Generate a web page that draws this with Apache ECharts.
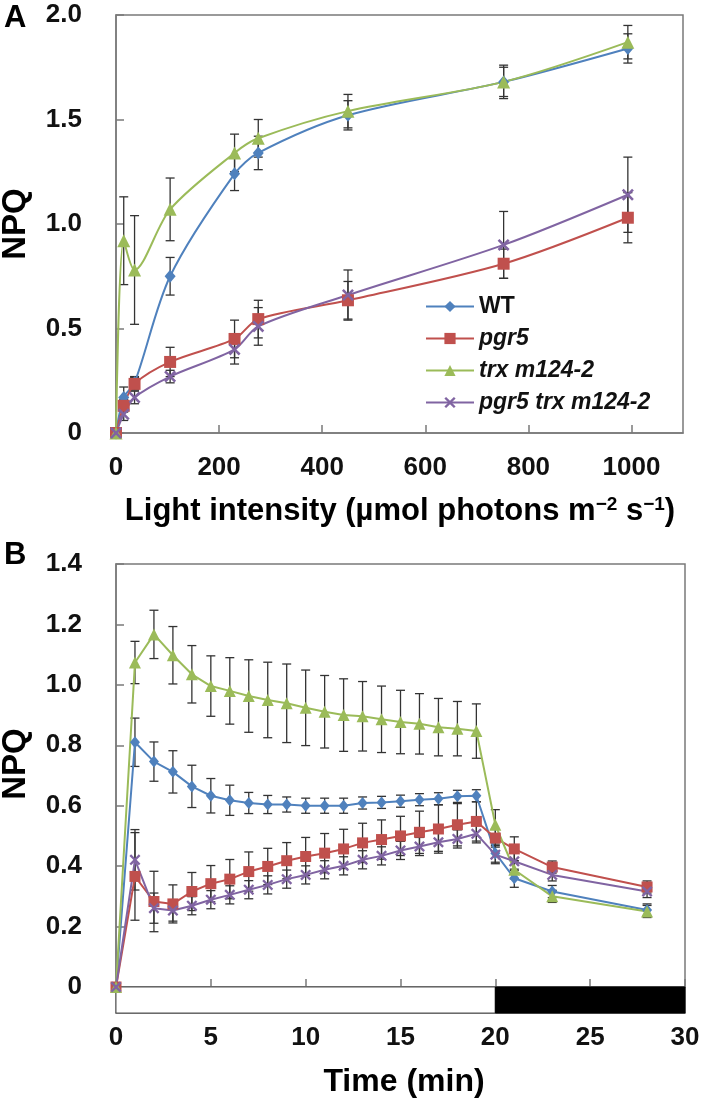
<!DOCTYPE html>
<html>
<head>
<meta charset="utf-8">
<script src="https://cdn.jsdelivr.net/npm/echarts@6/dist/echarts.min.js"></script>
<style>
html, body { margin: 0; padding: 0; background: #fff; }
#chart { width: 705px; height: 1103px; }
</style>
</head>
<body>
<div id="chart"></div>
<script>
// panel A: NPQ vs light intensity
var lightA = [0, 15, 36, 105, 230, 276, 450, 752, 993];
var wtA = [0, 0.17, 0.24, 0.75, 1.24, 1.34, 1.52, 1.68, 1.84];
var wtAErr = [0, 0.05, 0.03, 0.09, 0.08, 0.08, 0.07, 0.07, 0.07];
var pgr5A = [0, 0.13, 0.235, 0.34, 0.45, 0.545, 0.635, 0.81, 1.03];
var pgr5AErr = [0, 0.03, 0.03, 0.07, 0.09, 0.09, 0.09, 0.07, 0.12];
var trxA = [0, 0.92, 0.78, 1.07, 1.34, 1.41, 1.54, 1.68, 1.87];
var trxAErr = [0, 0.21, 0.26, 0.15, 0.09, 0.09, 0.08, 0.08, 0.08];
var dblA = [0, 0.09, 0.17, 0.27, 0.40, 0.51, 0.66, 0.90, 1.14];
var dblAErr = [0, 0.03, 0.03, 0.03, 0.07, 0.09, 0.12, 0.16, 0.18];
var ticksAX = [0, 200, 400, 600, 800, 1000];

// panel B: NPQ induction / relaxation over time
var timeB = [0, 1, 2, 3, 4, 5, 6, 7, 8, 9, 10, 11, 12, 13, 14, 15, 16, 17, 18, 19, 20, 21, 23, 28];
var wtB = [0, 0.81, 0.746, 0.712, 0.664, 0.633, 0.618, 0.609, 0.604, 0.604, 0.60, 0.60, 0.60, 0.609, 0.611, 0.615, 0.62, 0.623, 0.631, 0.633, 0.443, 0.36, 0.316, 0.255];
var wtBErr = [0, 0.08, 0.065, 0.07, 0.07, 0.057, 0.05, 0.035, 0.03, 0.025, 0.025, 0.025, 0.025, 0.02, 0.02, 0.02, 0.02, 0.02, 0.02, 0.02, 0.03, 0.03, 0.02, 0.02];
var pgr5B = [0, 0.366, 0.283, 0.275, 0.316, 0.342, 0.357, 0.382, 0.399, 0.418, 0.432, 0.443, 0.457, 0.477, 0.488, 0.50, 0.512, 0.523, 0.537, 0.548, 0.493, 0.457, 0.397, 0.331];
var pgr5BErr = [0, 0.145, 0.10, 0.063, 0.063, 0.06, 0.065, 0.065, 0.06, 0.06, 0.063, 0.065, 0.065, 0.065, 0.065, 0.065, 0.07, 0.08, 0.07, 0.065, 0.03, 0.04, 0.02, 0.02];
var trxB = [0, 1.074, 1.167, 1.098, 1.035, 0.996, 0.98, 0.963, 0.95, 0.939, 0.924, 0.911, 0.90, 0.896, 0.886, 0.877, 0.871, 0.86, 0.855, 0.847, 0.537, 0.388, 0.30, 0.25];
var trxBErr = [0, 0.07, 0.08, 0.095, 0.095, 0.10, 0.11, 0.12, 0.125, 0.13, 0.125, 0.12, 0.12, 0.115, 0.11, 0.105, 0.10, 0.095, 0.09, 0.09, 0.05, 0.03, 0.02, 0.02];
var dblB = [0, 0.421, 0.261, 0.253, 0.269, 0.289, 0.305, 0.322, 0.338, 0.357, 0.371, 0.388, 0.401, 0.421, 0.434, 0.452, 0.465, 0.479, 0.49, 0.507, 0.438, 0.416, 0.371, 0.316];
var dblBErr = [0, 0.1, 0.05, 0.035, 0.03, 0.03, 0.03, 0.03, 0.03, 0.03, 0.03, 0.03, 0.03, 0.03, 0.03, 0.03, 0.03, 0.03, 0.03, 0.03, 0.03, 0.03, 0.02, 0.02];

// light (white) / dark (black) bar under panel B
var lightStart = [0, 20];
var lightEnd = [20, 30];
var lightState = ['light', 'dark'];

var names = ['WT', 'pgr5', 'trx m124-2', 'pgr5 trx m124-2'];
var colors = ['#4F81BD', '#C0504D', '#9BBB59', '#8064A2'];

var FONT = '"Liberation Sans", Arial, sans-serif';
var AXIS = '#7a7a7a';
var xMark = 'path://M0,1.5L1.5,0L5,3.5L8.5,0L10,1.5L6.5,5L10,8.5L8.5,10L5,6.5L1.5,10L0,8.5L3.5,5Z';
var symbols = ['diamond', 'rect', 'triangle', xMark];

var myChart = echarts.init(document.getElementById('chart'));

function lineSeries(i, xs, ys, grid, smooth, sizes) {
    return {
        name: names[i],
        type: 'line',
        xAxisIndex: grid,
        yAxisIndex: grid,
        data: xs.map(function(x, k) { return [x, ys[k]]; }),
        smooth: smooth,
        symbol: symbols[i],
        symbolSize: sizes[i],
        showAllSymbol: true,
        lineStyle: { color: colors[i], width: 2 },
        itemStyle: { color: colors[i] },
        z: 3
    };
}

function errSeries(xs, ys, es, grid) {
    return {
        type: 'custom',
        xAxisIndex: grid,
        yAxisIndex: grid,
        silent: true,
        z: 2,
        data: xs.map(function(x, k) { return [x, ys[k] - es[k], ys[k] + es[k]]; }),
        encode: { x: 0, y: [1, 2] },
        renderItem: function(params, api) {
            if (api.value(1) === api.value(2)) return null;
            var lo = api.coord([api.value(0), api.value(1)]);
            var hi = api.coord([api.value(0), api.value(2)]);
            var w = 4.5;
            var st = { stroke: '#333', lineWidth: 1.3 };
            return {
                type: 'group',
                children: [
                    { type: 'line', shape: { x1: lo[0], y1: lo[1], x2: hi[0], y2: hi[1] }, style: st },
                    { type: 'line', shape: { x1: lo[0] - w, y1: lo[1], x2: lo[0] + w, y2: lo[1] }, style: st },
                    { type: 'line', shape: { x1: hi[0] - w, y1: hi[1], x2: hi[0] + w, y2: hi[1] }, style: st }
                ]
            };
        }
    };
}

var labelStyle = { fontSize: 26, fontWeight: 'bold', color: '#111', fontFamily: FONT };
function numFmt(v) { return v === 0 ? '0' : v.toFixed(1); }
var axisLine = { show: true, onZero: false, lineStyle: { color: AXIS, width: 1.5 } };
var tickIn = { show: true, inside: true, length: 8, lineStyle: { color: AXIS, width: 1.5 } };

var sizesA = [[11, 13], 12, 13, 12];
var sizesB = [[10, 12], 11, 12, 11];

var series = [
    errSeries(lightA, wtA, wtAErr, 0),
    errSeries(lightA, pgr5A, pgr5AErr, 0),
    errSeries(lightA, trxA, trxAErr, 0),
    errSeries(lightA, dblA, dblAErr, 0),
    lineSeries(0, lightA, wtA, 0, 0.3, sizesA),
    lineSeries(1, lightA, pgr5A, 0, 0.3, sizesA),
    lineSeries(2, lightA, trxA, 0, 0.3, sizesA),
    lineSeries(3, lightA, dblA, 0, 0.3, sizesA),
    errSeries(timeB, wtB, wtBErr, 1),
    errSeries(timeB, pgr5B, pgr5BErr, 1),
    errSeries(timeB, trxB, trxBErr, 1),
    errSeries(timeB, dblB, dblBErr, 1),
    lineSeries(0, timeB, wtB, 1, false, sizesB),
    lineSeries(1, timeB, pgr5B, 1, false, sizesB),
    lineSeries(2, timeB, trxB, 1, false, sizesB),
    lineSeries(3, timeB, dblB, 1, false, sizesB),
    {
        type: 'custom',
        xAxisIndex: 2,
        yAxisIndex: 2,
        silent: true,
        z: 1,
        data: lightStart.map(function(s, k) { return [s, lightEnd[k], lightState[k] === 'dark' ? 1 : 0]; }),
        encode: { x: [0, 1] },
        renderItem: function(params, api) {
            var p0 = api.coord([api.value(0), 1]);
            var p1 = api.coord([api.value(1), 0]);
            var dark = api.value(2);
            return {
                type: 'rect',
                shape: { x: p0[0], y: p0[1], width: p1[0] - p0[0], height: p1[1] - p0[1] },
                style: { fill: dark ? '#000' : '#fff', stroke: dark ? '#000' : '#555', lineWidth: 1 }
            };
        }
    }
];

var option = {
    animation: false,
    backgroundColor: '#fff',
    grid: [
        { left: 116, top: 15, width: 567, height: 418, show: true, borderColor: AXIS, borderWidth: 1.5 },
        { left: 116, top: 564, width: 569, height: 423, show: true, borderColor: AXIS, borderWidth: 1.5 },
        { left: 116, top: 987, width: 569, height: 26, show: true, borderColor: AXIS, borderWidth: 1.5 }
    ],
    xAxis: [{
        gridIndex: 0,
        type: 'value',
        min: 0,
        max: 1100,
        axisLine: axisLine,
        axisTick: Object.assign({ customValues: ticksAX }, tickIn),
        axisLabel: Object.assign({ margin: 22, customValues: ticksAX, formatter: function(v) { return String(v); } }, labelStyle),
        splitLine: { show: false }
    }, {
        gridIndex: 1,
        type: 'value',
        min: 0,
        max: 30,
        interval: 5,
        axisLine: axisLine,
        axisTick: tickIn,
        axisLabel: { show: false },
        splitLine: { show: false }
    }, {
        gridIndex: 2,
        type: 'value',
        min: 0,
        max: 30,
        interval: 5,
        axisLine: axisLine,
        axisTick: { show: false },
        axisLabel: Object.assign({ margin: 12 }, labelStyle),
        splitLine: { show: false }
    }],
    yAxis: [{
        gridIndex: 0,
        type: 'value',
        min: 0,
        max: 2,
        interval: 0.5,
        axisLine: axisLine,
        axisTick: tickIn,
        axisLabel: Object.assign({ margin: 34, formatter: numFmt }, labelStyle),
        splitLine: { show: false }
    }, {
        gridIndex: 1,
        type: 'value',
        min: 0,
        max: 1.4,
        interval: 0.2,
        axisLine: axisLine,
        axisTick: tickIn,
        axisLabel: Object.assign({ margin: 34, formatter: numFmt }, labelStyle),
        splitLine: { show: false }
    }, {
        gridIndex: 2,
        type: 'value',
        min: 0,
        max: 1,
        show: false
    }],
    legend: {
        orient: 'vertical',
        left: 425,
        top: 295,
        padding: 0,
        itemWidth: 48,
        itemHeight: 14,
        itemGap: 9,
        data: [
            { name: 'WT', textStyle: { fontStyle: 'normal' } },
            { name: 'pgr5' },
            { name: 'trx m124-2' },
            { name: 'pgr5 trx m124-2' }
        ],
        textStyle: { fontSize: 23, fontWeight: 'bold', fontStyle: 'italic', color: '#111', fontFamily: FONT }
    },
    graphic: [
        { type: 'text', x: 4, y: 3, style: { text: 'A', fontSize: 31, fontWeight: 'bold', fill: '#000', fontFamily: FONT } },
        { type: 'text', x: 4, y: 540, style: { text: 'B', fontSize: 31, fontWeight: 'bold', fill: '#000', fontFamily: FONT } },
        { type: 'text', x: 16, y: 224, rotation: Math.PI / 2, style: { text: 'NPQ', fontSize: 33, fontWeight: 'bold', fill: '#000', fontFamily: FONT, align: 'center', verticalAlign: 'middle' } },
        { type: 'text', x: 16, y: 764, rotation: Math.PI / 2, style: { text: 'NPQ', fontSize: 33, fontWeight: 'bold', fill: '#000', fontFamily: FONT, align: 'center', verticalAlign: 'middle' } },
        {
            type: 'text', x: 400, y: 511,
            style: {
                text: 'Light intensity (µmol photons m{sup|−2} s{sup|−1})',
                fontSize: 31, fontWeight: 'bold', fill: '#000', fontFamily: FONT,
                align: 'center', verticalAlign: 'middle',
                rich: { sup: { fontSize: 19, fontWeight: 'bold', fontFamily: FONT, verticalAlign: 'top', fill: '#000' } }
            }
        },
        { type: 'text', x: 404, y: 1082, style: { text: 'Time (min)', fontSize: 32, fontWeight: 'bold', fill: '#000', fontFamily: FONT, align: 'center', verticalAlign: 'middle' } }
    ],
    series: series
};

myChart.setOption(option);
</script>
</body>
</html>
